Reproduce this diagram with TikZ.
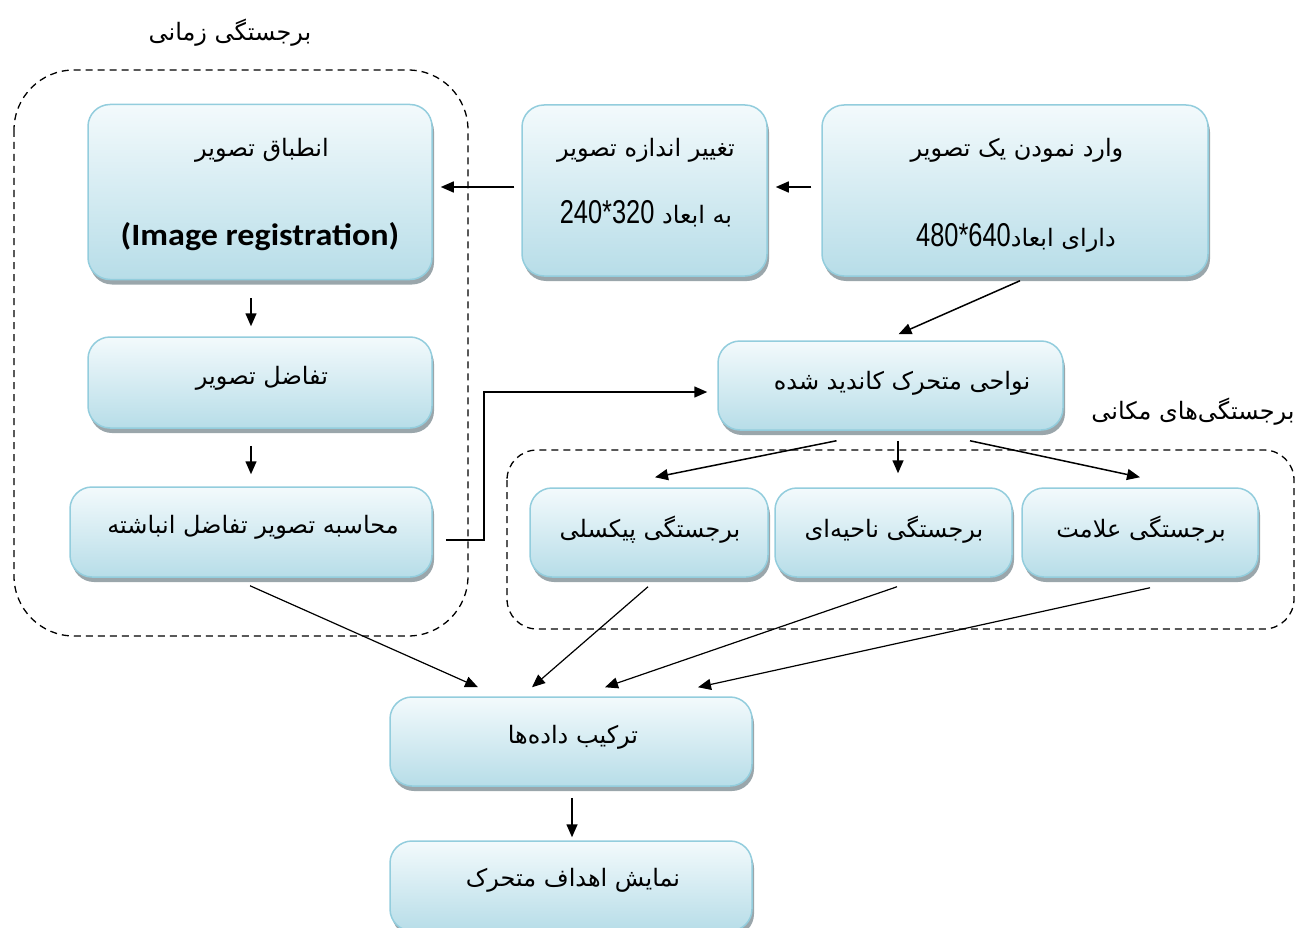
\documentclass[tikz,border=0pt]{standalone}
\usepackage{fontspec}
\usepackage{graphicx}
\setmainfont{Carlito}
\newfontfamily\ar[Script=Arabic]{DejaVu Sans}
\newfontfamily\numf{Liberation Sans}
\TeXXeTstate=1
\usetikzlibrary{shadows,arrows.meta}
\definecolor{bord}{HTML}{93CDDD}
\definecolor{fillb}{HTML}{B7DDE8}
\definecolor{filltop}{HTML}{F3FAFC}
\definecolor{shad}{HTML}{9AA6AB}
\tikzset{
  box/.style={draw=bord, line width=1.5pt, rounded corners=22pt,
    top color=filltop, bottom color=fillb,
    drop shadow={shadow xshift=2pt, shadow yshift=-5pt, fill=shad, opacity=1},
    inner sep=0pt},
  txt/.style={inner sep=0pt, font=\ar\fontsize{24}{28}\selectfont},
  arr/.style={line width=1.5pt, -{Triangle[length=13pt,width=11pt]}},
  ln/.style={line width=1.5pt},
  cont/.style={line width=1.3pt, dash pattern=on 7pt off 5pt},
}
\newcommand{\nums}[1]{{\numf\fontsize{33}{36}\selectfont\scalebox{0.77}[1]{#1}}}
\begin{document}
\begin{tikzpicture}[x=1pt,y=-1pt]
\useasboundingbox (0,0) rectangle (1316,928);
% containers
\draw[cont, rounded corners=60pt] (14,70) rectangle (468,636);
\draw[cont, rounded corners=30pt] (507,450) rectangle (1294,629);
\node[txt] (lblT) at (230,33) {\beginR برجستگی زمانی\endR};
\node[txt] (lblS) at (1193,412) {\beginR برجستگی‌های مکانی\endR};
% boxes
\node[box, minimum width=344pt, minimum height=175pt] (b1) at (260,192) {};
\node[box, minimum width=245pt, minimum height=171pt] (b2) at (644.5,190.5) {};
\node[box, minimum width=386pt, minimum height=171pt] (b3) at (1015,190.5) {};
\node[box, minimum width=344pt, minimum height=91pt] (b4) at (260,382.5) {};
\node[box, minimum width=362pt, minimum height=90pt] (b5) at (251,532) {};
\node[box, minimum width=345pt, minimum height=89pt] (b6) at (890.5,385.5) {};
\node[box, minimum width=238pt, minimum height=89pt] (b7) at (649,532.5) {};
\node[box, minimum width=237pt, minimum height=89pt] (b8) at (893.5,532.5) {};
\node[box, minimum width=236pt, minimum height=89pt] (b9) at (1140,532.5) {};
\node[box, minimum width=362pt, minimum height=89pt] (b10) at (571,741.5) {};
\node[box, minimum width=362pt, minimum height=90pt] (b11) at (571,886) {};
% texts
\node[txt] (b1t1) at (262,150) {\beginR انطباق تصویر\endR};
\node[inner sep=0pt, font=\bfseries\fontsize{31}{34}\selectfont] (b1t2) at (260,237) {\scalebox{1.1}[1]{(Image registration)}};
\node[txt] (b2t1) at (646,150) {\beginR تغییر اندازه تصویر\endR};
\node[txt] (b2t2) at (646,214) {\nums{240*320}\ {\beginR به ابعاد\endR}};
\node[txt] (b3t1) at (1017,150) {\beginR وارد نمودن یک تصویر\endR};
\node[txt] (b3t2) at (1016,238) {\nums{480*640}{\beginR دارای ابعاد\endR}};
\node[txt] (b4t) at (262,378) {\beginR تفاضل تصویر\endR};
\node[txt] (b5t) at (253,527) {\beginR محاسبه تصویر تفاضل انباشته\endR};
\node[txt] (b6t) at (902,383) {\beginR نواحی متحرک کاندید شده\endR};
\node[txt] (b7t) at (650,530) {\beginR برجستگی پیکسلی\endR};
\node[txt] (b8t) at (894,530) {\beginR برجستگی ناحیه‌ای\endR};
\node[txt] (b9t) at (1141,530) {\beginR برجستگی علامت\endR};
\node[txt] (b10t) at (573,737) {\beginR ترکیب داده‌ها\endR};
\node[txt] (b11t) at (573,880) {\beginR نمایش اهداف متحرک\endR};
% arrows
\draw[arr] ([xshift=-10pt,yshift=3.5pt]b3.west) -- ([xshift=8pt,yshift=3.5pt]b2.east);
\draw[arr] ([xshift=-7pt,yshift=3.5pt]b2.west) -- ([xshift=8pt,yshift=5pt]b1.east);
\draw[arr] ([xshift=-9pt,yshift=-18pt]b1.south) -- ([xshift=-9pt,yshift=10pt]b4.north);
\draw[arr] ([xshift=-9pt,yshift=-17pt]b4.south) -- ([yshift=12pt]b5.north);
\draw[ln, -{Triangle[length=13pt,width=11pt]}] ([xshift=13pt,yshift=-8pt]b5.east) -- ++(38,0) |- ([xshift=-10pt,yshift=-6.5pt]b6.west);
\draw[arr] ([xshift=5pt,yshift=-4pt]b3.south) -- ([xshift=8pt,yshift=6pt]b6.north);
\draw[arr] ([xshift=-54pt,yshift=-10pt]b6.south) -- ([xshift=6pt,yshift=10pt]b7.north);
\draw[arr] ([xshift=7.5pt,yshift=-10pt]b6.south) -- ([xshift=4.5pt,yshift=14pt]b8.north);
\draw[arr] ([xshift=79.5pt,yshift=-10pt]b6.south) -- ([yshift=10pt]b9.north);
\draw[arr, line width=1.2pt] ([xshift=-1pt,yshift=-8pt]b5.south) -- ([xshift=-93pt,yshift=9pt]b10.north);
\draw[arr, line width=1.2pt] ([xshift=-1pt,yshift=-9pt]b7.south) -- ([xshift=-39pt,yshift=9pt]b10.north);
\draw[arr, line width=1.2pt] ([xshift=3.5pt,yshift=-9pt]b8.south) -- ([xshift=34pt,yshift=9pt]b10.north);
\draw[arr, line width=1.2pt] ([xshift=10pt,yshift=-10pt]b9.south) -- ([xshift=127pt,yshift=9pt]b10.north);
\draw[arr] ([xshift=1pt,yshift=-11pt]b10.south) -- ([xshift=1pt,yshift=3pt]b11.north);
\end{tikzpicture}
\end{document}
